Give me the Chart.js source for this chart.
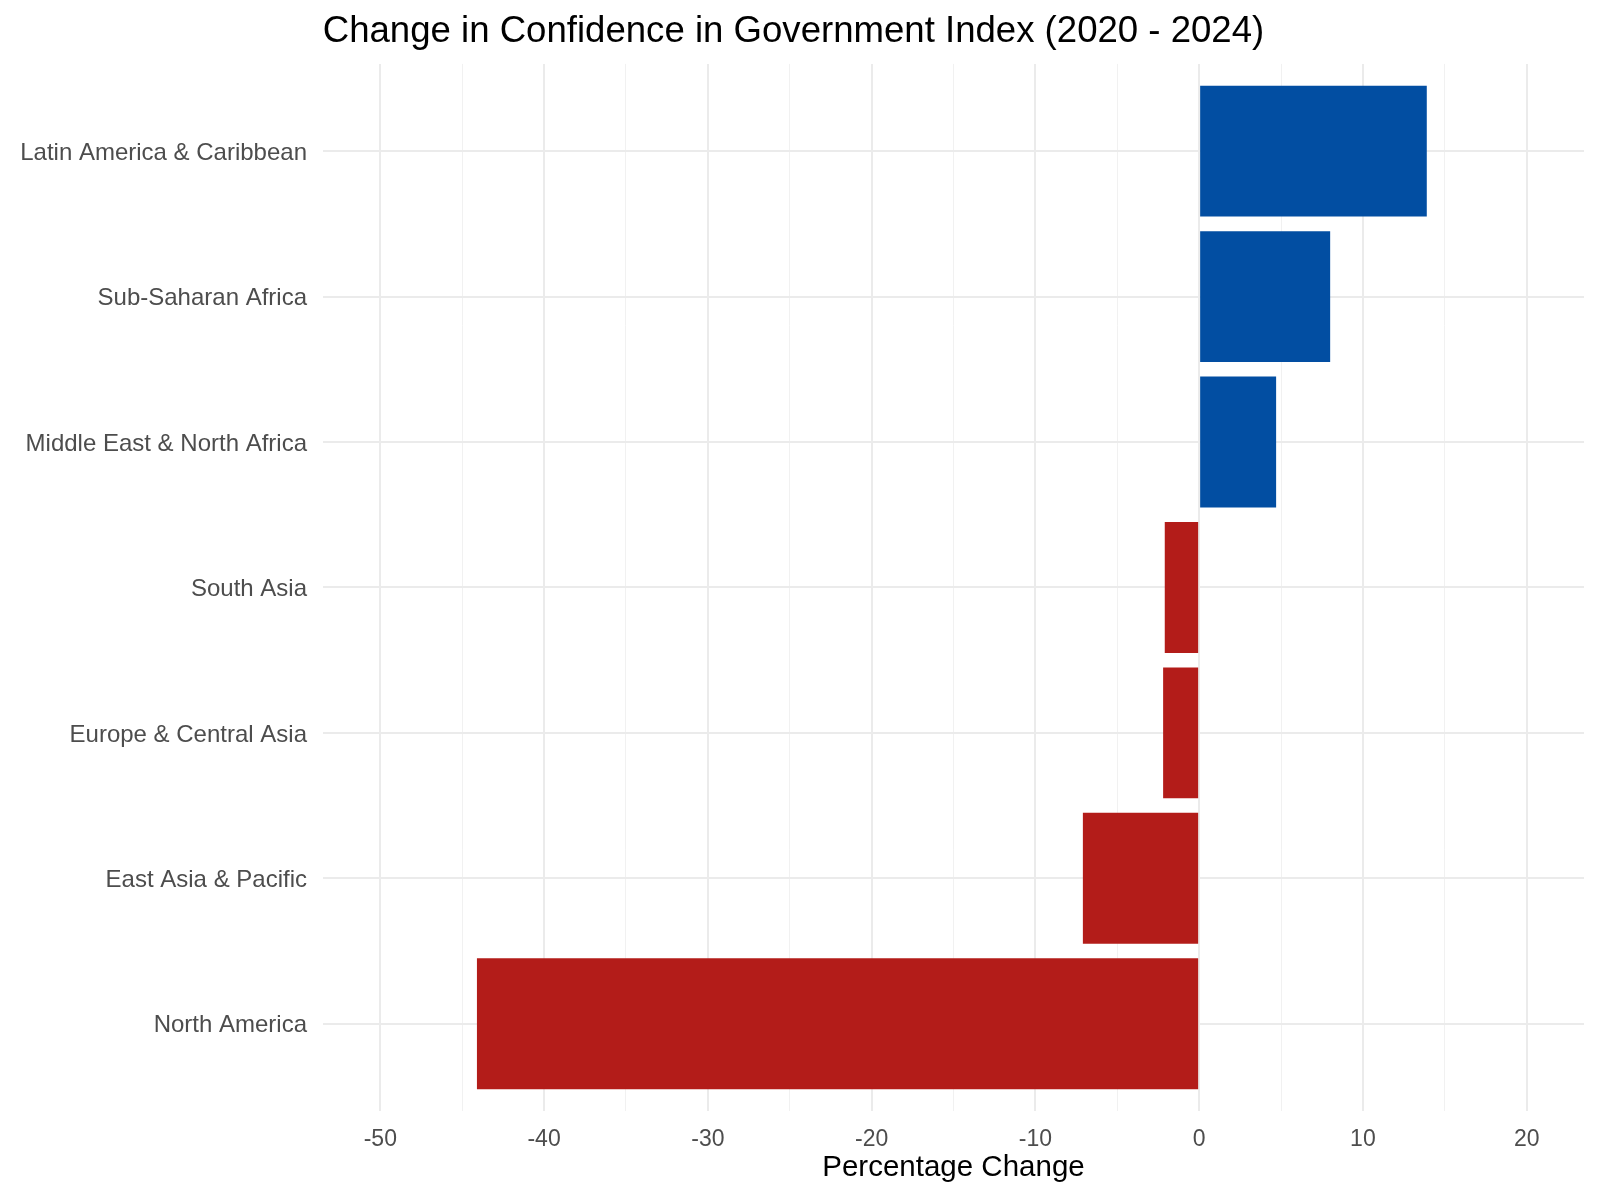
<!DOCTYPE html>
<html>
<head>
<meta charset="utf-8">
<script src="https://cdn.jsdelivr.net/npm/chart.js@4.4.1/dist/chart.umd.min.js"></script>
<style>
  html, body { margin: 0; padding: 0; background: #ffffff; }
  #wrap { width: 1600px; height: 1201px; position: relative; }
</style>
</head>
<body>
<div id="wrap"><canvas id="c" width="1600" height="1201"></canvas></div>
<script>
// ---- Data ----
const categories = [
  "Latin America & Caribbean",
  "Sub-Saharan Africa",
  "Middle East & North Africa",
  "South Asia",
  "Europe & Central Asia",
  "East Asia & Pacific",
  "North America"
];
const changeValues = [13.9, 8.0, 4.7, -2.1, -2.2, -7.1, -44.1];
const xTickValues = [-50, -40, -30, -20, -10, 0, 10, 20];

const chartTitle = "Change in Confidence in Government Index (2020 - 2024)";
const xAxisTitle = "Percentage Change";

const positiveColor = "#024EA2";
const negativeColor = "#B31C19";
const gridColor = "#EBEBEB";
const minorGridColor = "#F1F1F1";
const fontFamily = "'Liberation Sans', Arial, Helvetica, sans-serif";

const barData = changeValues.map((v, i) => ({ x: v, y: i }));
const barColors = changeValues.map(v => v >= 0 ? positiveColor : negativeColor);

new Chart(document.getElementById('c'), {
  type: 'bar',
  data: {
    datasets: [{
      data: barData,
      backgroundColor: barColors,
      borderWidth: 0,
      barPercentage: 0.9,
      categoryPercentage: 1.0
    }]
  },
  options: {
    indexAxis: 'y',
    responsive: false,
    animation: false,
    events: [],
    layout: { padding: { left: 3, right: 16, top: 0, bottom: 0 } },
    plugins: {
      legend: { display: false },
      tooltip: { enabled: false },
      title: {
        display: true,
        text: chartTitle,
        color: '#000000',
        font: { family: fontFamily, size: 36.6, weight: 'normal', lineHeight: 1.2 },
        padding: { top: 10, bottom: 10 }
      }
    },
    scales: {
      x: {
        type: 'linear',
        position: 'bottom',
        min: -53.5,
        max: 23.5,
        offset: false,
        border: { display: false },
        grid: {
          offset: false,
          drawTicks: false,
          color: ctx => (ctx.tick && xTickValues.includes(ctx.tick.value)) ? gridColor : minorGridColor,
          lineWidth: ctx => (ctx.tick && xTickValues.includes(ctx.tick.value)) ? 2 : 1
        },
        ticks: {
          stepSize: 5,
          includeBounds: false,
          autoSkip: false,
          maxRotation: 0,
          padding: 15,
          color: '#4D4D4D',
          font: { family: fontFamily, size: 23 },
          callback: v => xTickValues.includes(v) ? String(v) : ''
        },
        title: {
          display: true,
          text: xAxisTitle,
          color: '#000000',
          font: { family: fontFamily, size: 29.5, lineHeight: 1.2 },
          padding: { top: 0, bottom: 15 }
        },
        afterFit: scale => { scale.height = 90; }
      },
      y: {
        type: 'linear',
        reverse: true,
        min: -0.6,
        max: 6.6,
        offset: false,
        border: { display: false },
        grid: {
          offset: false,
          drawTicks: false,
          color: gridColor,
          lineWidth: 2
        },
        ticks: {
          stepSize: 1,
          includeBounds: false,
          autoSkip: false,
          padding: 16,
          labelOffset: 2,
          color: '#4D4D4D',
          font: { family: fontFamily, size: 24 },
          callback: v => (Number.isInteger(v) && categories[v] !== undefined) ? categories[v] : ''
        },
        afterFit: scale => { scale.width = 320; }
      }
    }
  }
});
</script>
</body>
</html>
